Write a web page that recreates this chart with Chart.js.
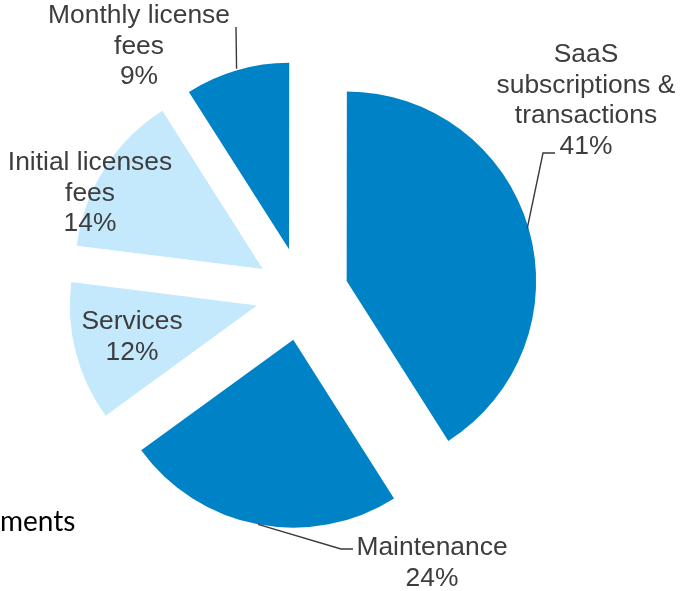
<!DOCTYPE html>
<html>
<head>
<meta charset="utf-8">
<script src="https://cdn.jsdelivr.net/npm/chart.js@4.4.1/dist/chart.umd.min.js"></script>
<style>
  html, body { margin: 0; padding: 0; background: #fff; }
  canvas { display: block; }
</style>
</head>
<body>
<canvas id="revenueChart" width="682" height="591"></canvas>
<script>
// данные диаграммы
const categories = ['SaaS subscriptions & transactions', 'Maintenance', 'Services', 'Initial licenses fees', 'Monthly license fees'];
const shares = [41, 24, 12, 14, 9];
const labelLines = [
    ['SaaS', 'subscriptions &', 'transactions'],
    ['Maintenance'],
    ['Services'],
    ['Initial licenses', 'fees'],
    ['Monthly license', 'fees']
];
const sliceColors = ['#0082C6', '#0082C6', '#C5E9FC', '#C5E9FC', '#0082C6'];

const pieRadius = 188;
const explode = 46.5; // насколько сектор отодвинут от центра, px

// где стоят подписи (x центра текста, baseline первой строки, точки выноски)
const labelPlaces = [
    { x: 586, y: 62, leader: [[543, 153], [555, 153]] },
    { x: 432, y: 555, leader: [[341, 549], [353, 549]] },
    { x: 132, y: 329, leader: null },
    { x: 90, y: 170, leader: null },
    { x: 139, y: 23, leader: [[236, 27]] }
];
const lineHeight = 30.5;

// Chart.js v4 двигает сектор на offset/4 и при этом увеличивает радиус узких секторов - возвращаем как было
const flatExplode = {
    id: 'flatExplode',
    afterDatasetUpdate(chart, args) {
        args.meta.data.forEach(arc => {
            const fix = 1 - Math.sin(Math.min(Math.PI, arc.circumference));
            const radiusOffset = explode * fix;
            const grow = radiusOffset / Math.PI / pieRadius / 2;
            arc.outerRadius = pieRadius - radiusOffset;
            arc.startAngle -= grow;
            arc.endAngle += grow;
            arc.circumference += 2 * grow;
        });
    }
};

const sliceLabels = {
    id: 'sliceLabels',
    afterDraw(chart) {
        const ctx = chart.ctx;
        const arcs = chart.getDatasetMeta(0).data;
        ctx.save();
        ctx.strokeStyle = '#3a3a3a';
        ctx.lineWidth = 1.4;
        ctx.fillStyle = '#3d3d3d';
        ctx.font = '26.4px "Liberation Sans", Arial, sans-serif';
        ctx.textAlign = 'center';
        ctx.textBaseline = 'alphabetic';

        arcs.forEach((arc, i) => {
            const place = labelPlaces[i];
            if (place.leader) {
                const mid = (arc.startAngle + arc.endAngle) / 2;
                const r = explode + pieRadius;
                ctx.beginPath();
                ctx.moveTo(arc.x + Math.cos(mid) * r, arc.y + Math.sin(mid) * r);
                place.leader.forEach(p => ctx.lineTo(p[0], p[1]));
                ctx.stroke();
            }
            const lines = labelLines[i].concat([shares[i] + '%']);
            lines.forEach((t, k) => {
                ctx.fillText(t, place.x, place.y + k * lineHeight);
            });
        });

        // обрезанный кусок подписи слева внизу
        ctx.fillStyle = '#000';
        ctx.textAlign = 'left';
        ctx.font = '28px Lato, "Open Sans", sans-serif';
        ctx.fillText('ments', 0, 531);
        ctx.restore();
    }
};

const ctx = document.getElementById('revenueChart').getContext('2d');
new Chart(ctx, {
    type: 'pie',
    data: {
        labels: categories,
        datasets: [{
            data: shares,
            backgroundColor: sliceColors,
            borderWidth: 0,
            offset: explode * 4
        }]
    },
    options: {
        responsive: false,
        animation: false,
        events: [],
        radius: pieRadius,
        layout: { padding: { left: 0, right: 78, top: 0, bottom: 3 } },
        plugins: {
            legend: { display: false },
            tooltip: { enabled: false },
            title: { display: false }
        }
    },
    plugins: [flatExplode, sliceLabels]
});
</script>
</body>
</html>
